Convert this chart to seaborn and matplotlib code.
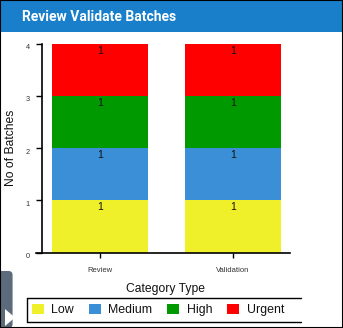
import matplotlib
matplotlib.use("Agg")
import matplotlib.pyplot as plt
import matplotlib.transforms as mtransforms
from matplotlib.patches import Rectangle, Patch, FancyBboxPatch, Polygon
from matplotlib.lines import Line2D
import seaborn as sns
import pandas as pd
import numpy as np

categories = ["Review", "Validation"]
levels = ["Low", "Medium", "High", "Urgent"]
low = [1, 1]
medium = [1, 1]
high = [1, 1]
urgent = [1, 1]
colors = ["#f0f02a", "#3a8fd6", "#009900", "#ff0000"]
yticks = [0, 1, 2, 3, 4]

sns.set_style("white")
plt.rcParams["font.family"] = ["Liberation Sans", "DejaVu Sans"]

W, H = 343, 328
fig = plt.figure(figsize=(W / 100, H / 100), dpi=100)

def fx(px):
    return px / W

def fy(py):
    return 1 - py / H

# header band
fig.patches.append(Rectangle((0, fy(32)), 1, 32 / H, transform=fig.transFigure,
                             facecolor="#1a7fca", edgecolor="none", zorder=0))
fig.text(fx(22), fy(17), "Review Validate Batches", color="white", fontsize=10,
         fontweight="bold", va="center", ha="left",
         family=["Roboto", "Liberation Sans", "DejaVu Sans"])

ax = fig.add_axes([fx(36), (H - 252.5) / H, 254 / W, 209 / H])

series = [low, medium, high, urgent]
cum = np.cumsum(np.array(series), axis=0)

# draw cumulative layers from top to bottom so they look stacked
for i in reversed(range(len(levels))):
    d = pd.DataFrame({"Category": categories, "val": cum[i]})
    sns.barplot(data=d, x="Category", y="val", color=colors[i], width=0.72,
                saturation=1, ax=ax, order=categories, zorder=2,
                edgecolor="none", linewidth=0)

# segment labels
for i in range(len(levels)):
    for j in range(len(categories)):
        top = cum[i][j]
        ax.annotate(str(series[i][j]), (j, top), xytext=(0, -7),
                    textcoords="offset pixels", ha="center", va="center",
                    fontsize=7.5, color="#111111", zorder=5)

ax.set_xlim(-0.481, 1.429)
ax.set_ylim(0, 4)
ax.set_yticks(yticks)
ax.set_yticklabels([str(t) for t in yticks])

for s in ["top", "right"]:
    ax.spines[s].set_visible(False)
ax.spines["left"].set_position(("axes", 6 / 254))
ax.spines["left"].set_color("black")
ax.spines["bottom"].set_color("black")
ax.spines["left"].set_linewidth(1.2)
ax.spines["bottom"].set_linewidth(1.2)

ax.tick_params(axis="y", direction="out", length=4.3, width=1, color="black",
               labelsize=5.3, labelcolor="#333333", pad=4.5, left=True)
ax.tick_params(axis="x", direction="out", length=3.6, width=1, color="black",
               labelsize=5.5, labelcolor="#333333", pad=7, bottom=True)

off = mtransforms.ScaledTranslation(0, -3 / 100, fig.dpi_scale_trans)
for lab in ax.get_yticklabels():
    lab.set_transform(lab.get_transform() + off)

ax.set_ylabel("No of Batches", fontsize=8.7, color="#111111")
ax.yaxis.set_label_coords((17 - 36) / 254, 0.5)
ax.set_xlabel("Category Type", fontsize=8.7, color="#111111")
ax.xaxis.set_label_coords((166 - 36) / 254, -(283 - 252.5) / 209)
ax.patch.set_alpha(0)

# legend frame (open on the right)
lx0, lx1, ly0, ly1 = 26.5, 301, 297.5, 322
for (x0, y0, x1, y1) in [(lx0, ly0, lx1, ly0), (lx0, ly1, lx1, ly1), (lx0, ly0, lx0, ly1)]:
    fig.lines.append(Line2D([fx(x0), fx(x1)], [fy(y0), fy(y1)], transform=fig.transFigure,
                            color="black", lw=1))
handles = [Patch(facecolor=c, edgecolor="none", label=l) for c, l in zip(colors, levels)]
fig.legend(handles=handles, loc="center left", bbox_to_anchor=(fx(32), fy(310)),
           ncol=4, frameon=False, fontsize=8.9, handlelength=0.95, handleheight=0.95,
           handletextpad=0.62, columnspacing=1.2, borderpad=0, borderaxespad=0,
           labelcolor="#111111")

# side tab
fig.patches.append(FancyBboxPatch((0, fy(328)), fx(16) - 0.01, (328 - 271) / H,
                                  boxstyle="round,pad=0,rounding_size=0.012",
                                  transform=fig.transFigure, facecolor="#5b6b7b",
                                  edgecolor="none", zorder=1))
fig.patches.append(Rectangle((0, fy(328)), fx(8), (328 - 271) / H, transform=fig.transFigure,
                             facecolor="#5b6b7b", edgecolor="none", zorder=1))
fig.patches.append(Polygon([[fx(5), fy(309)], [fx(5), fy(326)], [fx(15), fy(317.5)]],
                           closed=True, transform=fig.transFigure, facecolor="white",
                           edgecolor="none", zorder=2))

# outer border
fig.patches.append(Rectangle((0, 0), 1, 1, transform=fig.transFigure, fill=False,
                             edgecolor="black", lw=1.5, zorder=10))

fig.savefig("out.png", dpi=100)
